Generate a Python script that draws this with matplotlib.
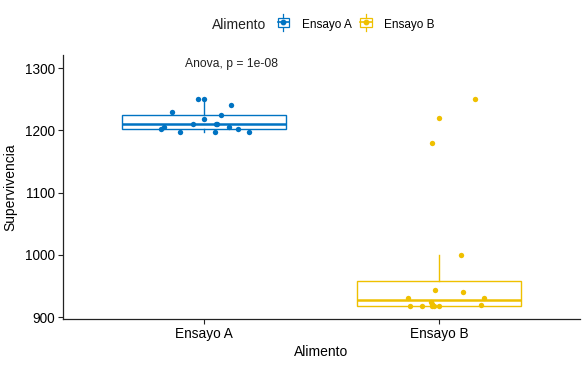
import matplotlib
matplotlib.use('Agg')
import matplotlib.pyplot as plt
import numpy as np
from matplotlib.legend_handler import HandlerBase
from matplotlib.patches import Rectangle
from matplotlib.lines import Line2D

plt.rcParams['font.family'] = ['Liberation Sans', 'DejaVu Sans']

# data
grupos = ['Ensayo A', 'Ensayo B']
ensayo_a = [1250, 1250, 1240, 1229, 1224, 1218, 1210, 1210, 1210,
            1206, 1206, 1202, 1202, 1198, 1198, 1198]
ensayo_b = [1250, 1220, 1180, 1000, 944, 940, 930, 930, 925,
            921, 920, 918, 918, 918, 918, 918]
# horizontal jitter of each point (category units)
jitter_a = [-0.026, 0.0, 0.114, -0.137, 0.072, 0.0, -0.046, 0.054, 0.05,
            -0.17, 0.108, -0.183, 0.143, -0.102, 0.048, 0.193]
jitter_b = [0.153, 0.001, -0.03, 0.094, -0.016, 0.101, -0.13, 0.193, -0.032,
            -0.028, 0.177, -0.123, -0.072, -0.021, -0.001, -0.03]
colores = ['#0073C2', '#EFC000']
p_valor = '1e-08'

fig = plt.figure(figsize=(5.88, 3.66), dpi=100)
ax = fig.add_axes([63/588, 1-319/366, 517/588, 264/366])

datos = [ensayo_a, ensayo_b]
jitters = [jitter_a, jitter_b]
for i, (vals, jit, col) in enumerate(zip(datos, jitters, colores)):
    pos = i + 1
    ax.boxplot([vals], positions=[pos], widths=0.7, showfliers=False,
               patch_artist=True,
               boxprops=dict(facecolor='white', edgecolor=col, linewidth=1.0),
               medianprops=dict(color=col, linewidth=1.8),
               whiskerprops=dict(color=col, linewidth=1.0),
               capprops=dict(linewidth=0))
    ax.scatter(pos + np.array(jit), vals, s=15, color=col, zorder=3,
               linewidths=0)

ax.text(0.92, 1306, f'Anova, p = {p_valor}', fontsize=8.7, ha='left',
        va='center', color='#222222')

ax.set_xlim(0.4, 2.6)
ax.set_ylim(897, 1321)
ax.set_yticks([900, 1000, 1100, 1200, 1300])
ax.set_xticks([1, 2])
ax.set_xticklabels(grupos)
for s in ['top', 'right']:
    ax.spines[s].set_visible(False)
for s in ['left', 'bottom']:
    ax.spines[s].set_linewidth(0.9)
    ax.spines[s].set_color('#222222')
ax.tick_params(axis='both', labelsize=9.8, length=3.5, width=0.8, pad=2,
               colors='#222222', labelcolor='black')
ax.set_xlabel('Alimento', fontsize=10, labelpad=3)
ax.set_ylabel('Supervivencia', fontsize=10, labelpad=6)


class BoxKey(HandlerBase):
    def create_artists(self, legend, orig, xd, yd, w, h, fontsize, trans):
        col = orig.get_color()
        cx = xd + w / 2
        cy = yd + h / 2
        bw = w * 0.75
        bh = h * 0.9
        rect = Rectangle((cx - bw / 2, cy - bh / 2), bw, bh, facecolor='white',
                         edgecolor=col, linewidth=0.9, transform=trans)
        vl = Line2D([cx, cx], [yd - h * 0.35, yd + h * 1.35], color=col,
                    linewidth=0.9, transform=trans)
        ml = Line2D([cx - bw / 2, cx + bw / 2], [cy, cy], color=col,
                    linewidth=1.2, transform=trans)
        dot = Line2D([cx], [cy], marker='o', markersize=3.2, color=col,
                     linestyle='none', transform=trans)
        return [vl, rect, ml, dot]


handles = [Line2D([], [], color=c) for c in colores]
fig.text(211.7/588, 1-25/366, 'Alimento', fontsize=10, va='center',
         ha='left', color='#222222')
fig.legend(handles, grupos, loc='center left',
           bbox_to_anchor=(276/588, 1-25/366), ncol=2, frameon=False,
           fontsize=8.5, handlelength=1.27, handleheight=0.9,
           handletextpad=0.9, columnspacing=0.6, borderpad=0,
           borderaxespad=0, handler_map={Line2D: BoxKey()})

fig.savefig('out.png', dpi=100)
